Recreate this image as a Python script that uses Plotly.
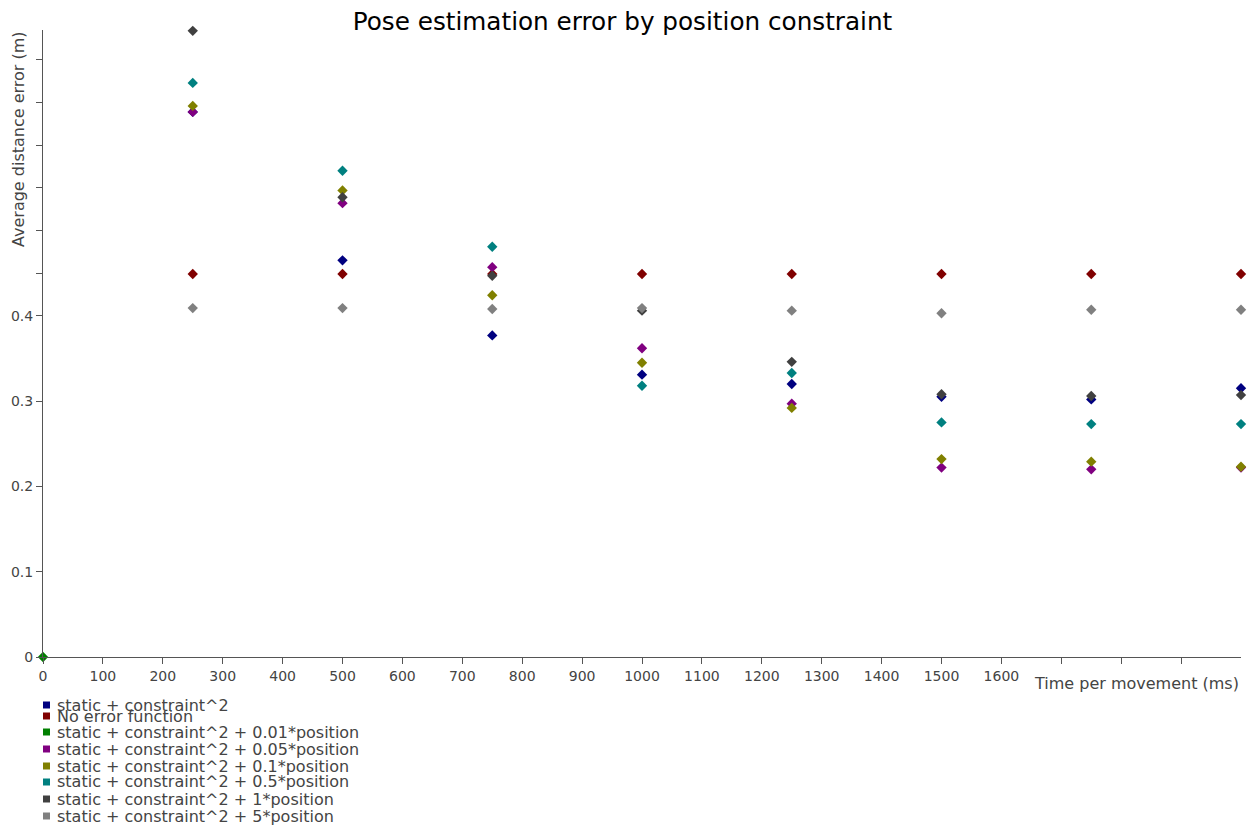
import plotly.graph_objects as go

# Time per movement (ms)
times = [250, 500, 750, 1000, 1250, 1500, 1750, 2000]

# Average distance error (m) per error-function variant
series_names = [
    "static + constraint^2",
    "No error function",
    "static + constraint^2 + 0.01*position",
    "static + constraint^2 + 0.05*position",
    "static + constraint^2 + 0.1*position",
    "static + constraint^2 + 0.5*position",
    "static + constraint^2 + 1*position",
    "static + constraint^2 + 5*position",
]
series_colors = ["#000080", "#800000", "#008000", "#800080",
                 "#808000", "#008080", "#404040", "#808080"]

static_c2 = [0.639, 0.465, 0.377, 0.331, 0.320, 0.305, 0.302, 0.315]
no_error = [0.449, 0.449, 0.449, 0.449, 0.449, 0.449, 0.449, 0.449]
pos_001_x = [0]
pos_001_y = [0]
pos_005 = [0.639, 0.532, 0.457, 0.362, 0.297, 0.222, 0.220, 0.222]
pos_01 = [0.646, 0.547, 0.424, 0.345, 0.292, 0.232, 0.229, 0.223]
pos_05 = [0.673, 0.570, 0.481, 0.318, 0.333, 0.275, 0.273, 0.273]
pos_1 = [0.734, 0.539, 0.447, 0.406, 0.346, 0.308, 0.306, 0.307]
pos_5 = [0.409, 0.409, 0.408, 0.409, 0.406, 0.403, 0.407, 0.407]

x_data = [times, times, pos_001_x, times, times, times, times, times]
y_data = [static_c2, no_error, pos_001_y, pos_005, pos_01, pos_05, pos_1, pos_5]

y_ticks = [0, 0.1, 0.2, 0.3, 0.4, 0.45, 0.5, 0.55, 0.6, 0.65, 0.7]
y_tick_labels = ["0", "0.1", "0.2", "0.3", "0.4", "", "", "", "", "", ""]
x_ticks = list(range(0, 2000, 100))
x_tick_labels = [str(v) if v <= 1600 else "" for v in x_ticks]

FONT = "DejaVu Sans, Verdana, sans-serif"
AXIS_COLOR = "#555555"
TEXT_COLOR = "#444444"

# plot area size in pixels (used to place paper-referenced items)
PW, PH = 1198, 627
PLOT_BOTTOM = 657

fig = go.Figure()
for name, color, xs, ys in zip(series_names, series_colors, x_data, y_data):
    fig.add_trace(go.Scatter(
        x=xs, y=ys, mode="markers", name=name,
        marker=dict(symbol="diamond", size=8, color=color, line=dict(width=0)),
        cliponaxis=False, showlegend=False,
    ))

fig.update_layout(
    width=1250, height=827,
    margin=dict(l=43, r=9, t=30, b=170),
    paper_bgcolor="white", plot_bgcolor="white",
    font=dict(family=FONT, size=14, color=TEXT_COLOR),
    title=dict(text="Pose estimation error by position constraint",
               x=0.498, xanchor="center", y=1 - 21 / 827, yanchor="middle",
               font=dict(family=FONT, size=24.7, color="#000000")),
    xaxis=dict(range=[0, 2000], tickvals=x_ticks, ticktext=x_tick_labels,
               showgrid=False, zeroline=False, showline=True,
               linecolor=AXIS_COLOR, linewidth=1,
               ticks="outside", ticklen=6, tickcolor=AXIS_COLOR,
               tickfont=dict(size=14, color=TEXT_COLOR)),
    yaxis=dict(range=[0, 0.735], tickvals=y_ticks, ticktext=y_tick_labels,
               showgrid=False, zeroline=False, showline=True,
               linecolor=AXIS_COLOR, linewidth=1,
               ticks="outside", ticklen=6, tickcolor=AXIS_COLOR,
               tickfont=dict(size=14, color=TEXT_COLOR)),
)

# Axis titles
fig.add_annotation(text="Time per movement (ms)", xref="paper", yref="paper",
                   x=1.0, y=-27 / PH, xanchor="right", yanchor="middle",
                   showarrow=False, font=dict(size=16, color=TEXT_COLOR))
fig.add_annotation(text="Average distance error (m)", xref="paper", yref="paper",
                   x=-25 / PW, y=1 - 109 / PH, xanchor="center", yanchor="middle",
                   textangle=-90, showarrow=False,
                   font=dict(size=16, color=TEXT_COLOR))

# Legend: colour squares with labels beside them
legend_rows = [705, 716, 732, 749, 766, 782, 799, 816]
for name, color, row in zip(series_names, series_colors, legend_rows):
    yc = -(row - PLOT_BOTTOM) / PH
    fig.add_shape(type="rect", xref="paper", yref="paper",
                  x0=0, x1=7 / PW, y0=yc - 3.5 / PH, y1=yc + 3.5 / PH,
                  line=dict(width=0), fillcolor=color)
    fig.add_annotation(text=name, xref="paper", yref="paper",
                       x=12 / PW, y=yc, xanchor="left", yanchor="middle",
                       showarrow=False, font=dict(size=16, color=TEXT_COLOR))

fig.write_html("out.html")
